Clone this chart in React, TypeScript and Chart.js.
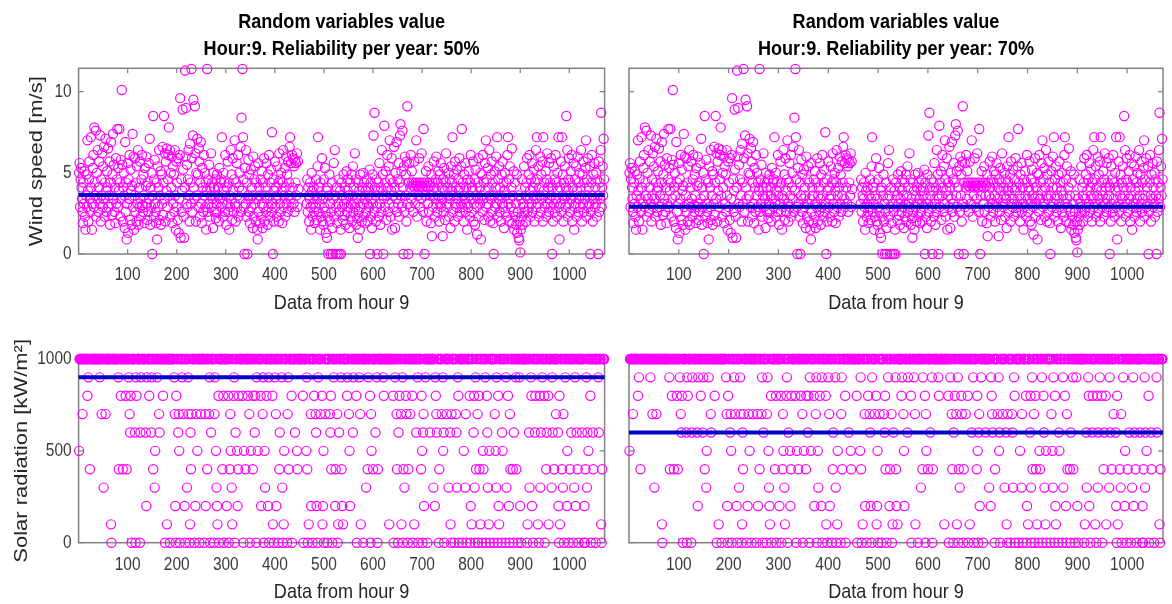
import React, { useEffect, useRef } from "react";
import { Chart, registerables } from "chart.js";

Chart.register(...registerables);

// ---------------- DATA ----------------
const hourOfDay = 9;
const reliabilityPercent = [50, 70];
const xAxisMax = 1072;
const xTickValues = [100, 200, 300, 400, 500, 600, 700, 800, 900, 1000];
const windTickValues = [0, 5, 10];
const solarTickValues = [0, 500, 1000];
const windAxisMax = 11.44;
const solarAxisMax = 1000;
// value reached with the given reliability (50%, 70%)
const windReliabilityLevel = [3.63, 2.91];
const solarReliabilityLevel = [900, 600];

// wind speed [m/s] for each day at hour 9 (null = missing record)
const windSpeed: (number | null)[] = [
  5.0, 5.6, 2.9, 4.6, 5.3, 4.1, 3.4, 2.6, 1.9, 4.4,
  3.1, 5.1, 2.3, 1.5, 3.6, 4.9, 2.9, 7.0, 3.9, 2.0,
  4.6, 5.7, 3.4, 2.6, 7.2, 4.1, 1.5, 3.1, 5.3, 6.1,
  2.9, 7.8, 4.4, 3.6, 7.6, 2.3, 5.0, 3.4, 6.4, 2.6,
  4.1, 5.7, 3.1, 7.3, 2.0, 4.6, 3.6, 6.2, 2.9, 5.4,
  3.4, 6.6, 2.3, 4.4, 7.1, 3.9, 2.6, 5.1, 4.1, 6.5,
  2.9, 3.6, 5.7, 1.8, 4.4, 6.9, 3.1, 2.4, 4.9, 7.4,
  3.4, 5.5, 2.6, 4.1, 1.9, 5.9, 3.1, 4.6, 7.7, 2.9,
  5.3, 3.9, 7.7, 4.4, 2.3, 5.8, 3.4, 10.1, 5.5, 2.0,
  4.1, 5.0, 3.6, 1.6, 6.9, 2.6, 4.4, 0.9, 3.1, 5.6,
  1.3, 4.6, 3.4, 6.1, 2.1, 5.2, 3.9, 1.8, 4.2, 7.4,
  2.9, 6.0, 1.5, 3.6, 5.9, 2.6, 4.4, 2.0, 5.4, 3.1,
  6.4, 1.8, 4.1, 2.9, 5.7, 3.4, 2.3, 4.6, 6.1, 3.0,
  2.6, 4.9, 3.6, 1.9, 5.3, 2.9, 4.2, 6.0, 3.1, 2.1,
  4.4, 2.6, 5.6, 3.4, 7.1, 1.8, 4.1, 2.9, 5.0, 0.0,
  3.6, 8.5, 2.3, 4.6, 5.8, 3.1, 2.6, 1.9, 4.4, 0.9,
  5.4, 2.9, 4.1, 6.4, 2.1, 3.6, 5.1, 1.8, 4.9, 3.1,
  6.6, 2.4, 4.4, 8.5, 3.4, 6.2, 2.0, 5.7, 3.9, 6.5,
  2.9, 4.6, 6.1, 7.8, 3.6, 6.4, 2.3, 5.0, 4.1, 6.0,
  1.9, 5.4, 3.1, 4.9, 2.6, 6.4, 3.6, 1.5, 5.7, 2.9,
  4.4, 2.1, 5.9, 1.3, 3.4, 6.1, 9.6, 1.0, 4.6, 2.6,
  3.9, 8.9, 5.2, 2.3, 1.0, 4.1, 11.3, 6.0, 9.0, 3.1,
  5.5, 2.9, 4.6, 6.4, 3.6, 2.0, 6.8, 4.4, 3.1, 11.4,
  5.9, 2.6, 7.3, 9.5, 4.1, 3.4, 9.1, 6.2, 2.0, 5.0,
  3.6, 7.1, 4.9, 2.9, 6.5, 5.7, 2.3, 4.4, 6.9, 3.1,
  1.9, 5.3, 4.1, 2.6, 6.1, 3.6, 5.0, 2.9, 4.4, 1.5,
  3.9, 11.4, 2.6, 4.6, 3.1, 5.5, 2.3, 4.1, 3.6, 6.2,
  2.9, 4.4, 3.4, 1.6, 5.0, 4.1, 2.6, 3.6, 4.6, 2.2,
  3.1, 4.9, 2.6, 4.1, 3.6, 2.0, 5.3, 3.4, 4.4, 2.9,
  4.6, 7.2, 3.1, 2.3, 5.0, 3.9, 4.4, 2.6, 6.1, 3.6,
  1.8, 4.1, 3.1, 5.7, 2.6, 4.4, 1.5, 3.6, 2.9, 6.4,
  3.4, 4.9, 2.1, 5.9, 3.9, 2.6, 4.6, 7.0, 3.1, 2.0,
  4.4, 5.6, 2.9, 3.6, 6.1, 2.3, 4.1, 5.0, 3.4, 6.6,
  2.6, 8.4, 3.9, 11.4, 7.2, 4.6, 2.9, 0.0, 5.3, 3.1,
  6.4, 2.3, 4.4, 0.0, 3.6, 5.8, 2.6, 4.9, 1.9, 3.4,
  5.2, 2.9, 4.1, 3.6, 1.6, 6.0, 2.3, 4.6, 3.1, 5.4,
  2.0, 4.4, 3.4, 1.5, 0.9, 5.6, 2.6, 4.1, 3.6, 1.9,
  4.6, 2.3, 5.1, 3.1, 1.6, 4.4, 2.9, 5.9, 2.0, 3.6,
  4.1, 2.6, 5.6, 3.4, 1.8, 4.9, 2.9, 6.1, 3.6, 2.3,
  4.4, 5.2, 2.6, 7.5, 3.1, 0.0, 4.6, 2.0, 3.9, 5.7,
  2.9, 4.1, 3.4, 2.3, 5.4, 3.6, 4.4, 2.0, 6.2, 3.1,
  4.6, 2.6, 5.0, 3.9, 1.9, 4.4, 6.4, 2.9, 3.6, 5.3,
  2.3, 4.1, 6.0, 3.1, 4.9, 2.6, 5.7, 3.6, 4.4, 6.6,
  7.2, 3.4, 5.6, 2.9, 6.1, 4.1, 5.9, 3.1, 5.4, 2.6,
  5.8, 4.4, 5.6, 3.6, 6.2, 2.9, 5.7, 4.0, null, null,
  null, null, null, null, null, null, null, null, null, null,
  null, null, null, null, 3.1, 4.6, 2.6, 4.1, 3.6, 2.0,
  3.4, 4.4, 2.9, 1.5, 5.0, 3.9, 2.3, 3.1, 4.1, 2.6,
  1.9, 3.6, 2.9, 4.6, 2.1, 3.4, 5.4, 7.2, 2.6, 4.1,
  3.1, 1.5, 4.4, 2.3, 3.6, 5.9, 2.0, 3.4, 1.8, 4.6,
  2.9, 5.3, 2.6, 1.3, 3.9, 1.0, 4.1, 2.3, 0.0, 3.6,
  4.9, 2.0, 3.1, 0.0, 2.6, 4.4, 1.6, 0.0, 3.4, 5.6,
  2.3, 6.4, 3.6, 0.0, 2.9, 4.1, 1.9, 0.0, 3.1, 4.6,
  2.6, 0.0, 3.9, 1.5, 0.0, 4.4, 2.9, 3.6, 2.1, 4.9,
  3.1, 2.4, 4.1, 1.8, 3.4, 5.1, 2.6, 3.9, 4.6, 2.9,
  3.6, 1.6, 4.4, 2.3, 3.1, 4.9, 2.0, 3.6, 5.4, 2.6,
  4.1, 3.1, 6.2, 2.9, 4.6, 1.8, 3.4, 2.2, 1.0, 4.4,
  2.6, 3.9, 1.5, 4.9, 2.9, 3.6, 2.0, 4.1, 3.1, 5.0,
  2.3, 4.4, 3.4, 1.9, 3.9, 2.6, 4.6, 3.1, 2.0, 4.1,
  3.6, 2.9, 5.2, 0.0, 4.4, 2.3, 3.4, 1.6, 4.9, 3.1,
  7.3, 2.6, 8.7, 4.1, 3.6, 2.0, 4.6, 2.9, 0.0, 3.9,
  4.4, 2.3, 5.6, 3.1, 1.8, 4.1, 2.6, 6.4, 3.6, 4.9,
  0.0, 3.4, 7.9, 2.9, 4.4, 5.1, 2.1, 3.6, 6.1, 4.1,
  2.6, 5.4, 3.1, 7.0, 4.6, 2.3, 3.9, 5.9, 1.5, 4.4,
  3.6, 2.9, 6.6, 4.1, 1.6, 5.0, 3.4, 6.9, 2.6, 4.6,
  3.1, 5.6, 2.3, 4.4, 7.3, 8.0, 3.6, 5.1, 2.9, 7.6,
  4.1, 0.0, 5.4, 2.6, 6.0, 3.6, 4.9, 2.0, 5.7, 9.1,
  3.1, 0.0, 4.4, 5.6, 2.9, 4.1, 6.1, 3.4, 5.1, 4.4,
  4.2, 2.6, 4.4, 5.7, 4.1, 3.1, 4.4, 7.0, 4.2, 2.3,
  4.4, 3.6, 4.1, 5.9, 4.4, 2.9, 4.2, 3.4, 6.2, 4.4,
  4.1, 2.6, 7.7, 4.4, 0.0, 3.6, 4.2, 5.1, 2.0, 4.4,
  3.1, 4.1, 5.4, 2.6, 4.4, 3.6, 4.2, 1.9, 4.9, 1.1,
  4.4, 2.9, 3.6, 5.7, 4.1, 2.3, 3.4, 4.6, 6.0, 3.1,
  2.6, 4.4, 5.1, 3.6, 2.0, 4.9, 3.1, 5.6, 2.9, 4.1,
  3.4, 1.1, 4.6, 2.6, 5.3, 3.9, 2.1, 4.4, 6.2, 3.1,
  2.9, 4.1, 3.6, 5.0, 2.3, 4.6, 3.4, 1.6, 5.4, 3.9,
  4.4, 7.2, 2.6, 3.6, 4.9, 2.0, 5.7, 3.1, 4.1, 2.9,
  5.2, 3.4, 2.3, 4.6, 3.9, 5.9, 2.6, 4.1, 3.1, 5.4,
  7.7, 2.9, 4.4, 3.6, 2.0, 4.9, 3.4, 5.6, 2.6, 4.1,
  3.1, 1.5, 4.6, 2.9, 5.1, 3.6, 2.3, 4.4, 6.1, 3.4,
  2.6, 4.1, 3.9, 5.7, 2.0, 3.1, 4.6, 1.8, 5.2, 3.6,
  2.9, 1.2, 4.4, 3.4, 5.9, 2.3, 4.1, 3.1, 5.0, 0.9,
  3.6, 4.9, 2.6, 6.1, 3.4, 4.4, 2.1, 5.6, 3.9, 7.0,
  2.9, 4.6, 3.1, 5.3, 2.3, 4.1, 6.4, 3.6, 2.0, 4.9,
  3.4, 5.7, 2.6, 4.4, 1.9, 0.0, 3.6, 5.1, 2.9, 4.1,
  6.0, 3.1, 7.2, 2.3, 4.6, 3.4, 5.4, 2.6, 4.1, 3.6,
  2.0, 4.9, 3.1, 5.7, 2.9, 4.4, 1.6, 3.9, 5.0, 2.6,
  3.6, 4.4, 2.3, 6.1, 7.2, 3.1, 4.6, 2.0, 5.4, 3.4,
  2.9, 4.1, 6.5, 1.9, 3.6, 2.6, 5.1, 1.5, 4.4, 2.3,
  3.1, 1.8, 4.9, 1.3, 2.6, 3.6, 1.0, 0.85, 2.0, 0.1,
  1.5, 3.4, 2.3, 4.6, 1.8, 3.1, 2.9, 5.4, 2.6, 4.1,
  3.6, 2.0, 4.4, 5.9, 2.6, 3.4, 4.9, 2.9, 6.1, 3.9,
  2.3, 4.6, 3.1, 5.6, 2.6, 4.1, 3.6, 5.2, 2.0, 4.4,
  3.4, 6.4, 2.9, 7.2, 4.6, 3.1, 5.4, 2.3, 4.1, 3.6,
  6.0, 2.6, 4.9, 3.4, 5.7, 2.0, 7.2, 3.9, 4.4, 2.9,
  3.6, 5.1, 2.3, 4.6, 6.2, 3.1, 4.1, 2.6, 5.6, 3.4,
  4.4, 2.9, 5.9, 3.6, 0.0, 4.1, 2.0, 5.4, 3.1, 4.6,
  2.6, 6.1, 3.4, 4.4, 2.3, 5.0, 3.9, 7.2, 2.9, 0.9,
  4.1, 3.1, 5.7, 2.6, 7.2, 3.6, 4.9, 2.0, 4.4, 3.4,
  5.4, 2.9, 4.1, 8.5, 3.6, 6.4, 2.3, 4.6, 5.9, 3.1,
  4.4, 2.6, 5.1, 3.4, 6.1, 2.0, 4.1, 3.6, 5.6, 1.5,
  2.9, 4.6, 3.1, 5.4, 2.3, 3.9, 6.0, 2.6, 4.4, 3.4,
  5.0, 2.9, 4.1, 6.4, 3.6, 2.0, 4.9, 3.1, 5.7, 2.6,
  4.4, 3.4, 5.3, 7.0, 2.3, 4.6, 3.6, 5.9, 2.9, 4.1,
  3.1, 5.4, 0.0, 2.6, 4.4, 6.1, 3.6, 2.0, 4.9, 3.4,
  5.6, 2.9, 4.1, 3.1, 5.0, 2.3, 4.6, 3.6, 0.0, 5.7,
  2.6, 4.4, 3.4, 6.4, 8.7, 2.9, 4.1, 5.4, 3.6, 7.1,
  4.6,
];

// solar radiation (0..1000) for each day at hour 9
const solarRadiation: number[] = [
  500, 1000, 1000, 1000, 1000, 1000, 1000, 700, 1000, 1000,
  1000, 1000, 1000, 1000, 1000, 1000, 1000, 800, 1000, 900,
  1000, 1000, 400, 1000, 1000, 1000, 1000, 1000, 1000, 1000,
  1000, 1000, 1000, 1000, 1000, 1000, 1000, 1000, 1000, 1000,
  1000, 1000, 900, 1000, 1000, 1000, 700, 1000, 1000, 1000,
  300, 1000, 1000, 1000, 700, 1000, 1000, 1000, 1000, 1000,
  1000, 1000, 1000, 1000, 1000, 100, 0, 1000, 1000, 1000,
  1000, 1000, 1000, 1000, 1000, 1000, 1000, 1000, 1000, 1000,
  900, 400, 1000, 1000, 1000, 800, 1000, 1000, 1000, 400,
  1000, 1000, 1000, 1000, 1000, 800, 1000, 400, 1000, 1000,
  1000, 900, 1000, 700, 600, 800, 1000, 0, 1000, 1000,
  1000, 1000, 1000, 1000, 600, 0, 900, 800, 1000, 1000,
  1000, 1000, 1000, 1000, 0, 600, 900, 1000, 1000, 1000,
  1000, 1000, 1000, 1000, 1000, 1000, 600, 200, 900, 1000,
  1000, 1000, 1000, 800, 1000, 1000, 1000, 600, 900, 1000,
  1000, 400, 1000, 1000, 300, 500, 1000, 1000, 1000, 900,
  1000, 1000, 1000, 700, 600, 1000, 1000, 1000, 1000, 1000,
  1000, 800, 1000, 1000, 1000, 0, 1000, 1000, 1000, 100,
  1000, 1000, 1000, 1000, 1000, 0, 1000, 1000, 1000, 1000,
  1000, 1000, 1000, 1000, 900, 700, 200, 0, 800, 1000,
  1000, 1000, 600, 700, 500, 0, 1000, 1000, 1000, 1000,
  900, 1000, 700, 1000, 1000, 200, 0, 1000, 1000, 1000,
  300, 1000, 900, 700, 1000, 0, 100, 600, 400, 700,
  1000, 1000, 1000, 1000, 1000, 0, 1000, 200, 1000, 700,
  1000, 500, 1000, 1000, 1000, 0, 1000, 1000, 700, 1000,
  1000, 1000, 1000, 1000, 1000, 0, 1000, 700, 200, 1000,
  1000, 400, 1000, 1000, 1000, 700, 900, 0, 1000, 600,
  1000, 1000, 1000, 1000, 1000, 0, 700, 900, 1000, 500,
  300, 200, 100, 1000, 800, 0, 1000, 1000, 1000, 1000,
  1000, 1000, 400, 1000, 800, 0, 1000, 1000, 1000, 1000,
  1000, 200, 1000, 1000, 800, 0, 1000, 400, 700, 500,
  1000, 300, 100, 1000, 1000, 800, 900, 0, 1000, 600,
  1000, 1000, 500, 200, 400, 800, 1000, 1000, 1000, 1000,
  1000, 1000, 1000, 800, 1000, 0, 500, 1000, 1000, 400,
  1000, 1000, 1000, 1000, 800, 1000, 1000, 700, 0, 1000,
  500, 1000, 1000, 1000, 400, 800, 1000, 1000, 600, 800,
  1000, 0, 900, 1000, 500, 1000, 1000, 1000, 1000, 1000,
  800, 200, 1000, 1000, 700, 900, 0, 1000, 500, 300,
  1000, 1000, 800, 1000, 1000, 200, 900, 0, 1000, 1000,
  1000, 1000, 1000, 1000, 800, 100, 1000, 0, 1000, 900,
  1000, 700, 200, 1000, 1000, 1000, 0, 1000, 400, 600,
  1000, 1000, 1000, 900, 300, 0, 1000, 100, 500, 1000,
  1000, 1000, 1000, 1000, 0, 700, 900, 400, 1000, 1000,
  1000, 1000, 1000, 800, 0, 1000, 1000, 1000, 1000, 1000,
  600, 1000, 1000, 1000, 500, 400, 1000, 1000, 1000, 1000,
  1000, 1000, 1000, 1000, 1000, 1000, 800, 0, 1000, 1000,
  1000, 1000, 1000, 500, 900, 400, 0, 1000, 100, 1000,
  1000, 1000, 700, 200, 1000, 1000, 0, 1000, 1000, 800,
  1000, 1000, 700, 600, 200, 1000, 0, 900, 1000, 1000,
  1000, 1000, 700, 1000, 1000, 800, 100, 200, 500, 0,
  1000, 1000, 700, 1000, 1000, 1000, 0, 1000, 1000, 1000,
  1000, 700, 600, 800, 400, 1000, 0, 1000, 1000, 900,
  1000, 1000, 200, 400, 1000, 1000, 700, 0, 100, 1000,
  600, 1000, 1000, 1000, 900, 400, 200, 1000, 100, 1000,
  1000, 1000, 1000, 1000, 1000, 1000, 800, 900, 1000, 1000,
  700, 500, 200, 1000, 1000, 1000, 1000, 1000, 600, 900,
  1000, 1000, 1000, 1000, 1000, 800, 0, 1000, 1000, 1000,
  1000, 900, 1000, 700, 100, 1000, 1000, 1000, 1000, 0,
  1000, 1000, 1000, 1000, 1000, 300, 1000, 1000, 400, 900,
  1000, 1000, 1000, 800, 0, 700, 500, 1000, 1000, 400,
  1000, 1000, 1000, 1000, 600, 1000, 1000, 900, 0, 400,
  1000, 1000, 1000, 1000, 1000, 1000, 1000, 1000, 1000, 1000,
  900, 800, 1000, 1000, 1000, 1000, 1000, 1000, 1000, 1000,
  1000, 1000, 100, 1000, 1000, 1000, 1000, 1000, 1000, 1000,
  800, 0, 1000, 1000, 900, 1000, 1000, 700, 400, 1000,
  0, 600, 1000, 800, 1000, 1000, 700, 100, 1000, 900,
  0, 400, 1000, 300, 1000, 1000, 800, 700, 1000, 1000,
  0, 400, 1000, 1000, 1000, 700, 1000, 1000, 1000, 800,
  0, 1000, 1000, 100, 1000, 1000, 1000, 600, 1000, 1000,
  900, 0, 1000, 1000, 1000, 1000, 1000, 400, 800, 500,
  0, 600, 700, 200, 1000, 1000, 900, 1000, 1000, 1000,
  0, 1000, 1000, 1000, 1000, 600, 1000, 1000, 1000, 1000,
  1000, 1000, 300, 1000, 1000, 200, 900, 800, 700, 600,
  1000, 1000, 1000, 0, 400, 1000, 1000, 1000, 1000, 700,
  1000, 900, 500, 600, 0, 1000, 1000, 1000, 1000, 700,
  1000, 1000, 1000, 300, 1000, 1000, 600, 100, 0, 700,
  1000, 1000, 1000, 1000, 1000, 0, 1000, 1000, 700, 600,
  300, 1000, 900, 800, 0, 1000, 1000, 1000, 1000, 1000,
  1000, 0, 1000, 1000, 500, 1000, 1000, 300, 700, 0,
  1000, 1000, 1000, 1000, 1000, 1000, 800, 0, 200, 1000,
  100, 1000, 1000, 1000, 600, 800, 300, 0, 900, 400,
  1000, 1000, 700, 0, 1000, 800, 400, 1000, 100, 1000,
  1000, 0, 1000, 500, 400, 1000, 1000, 1000, 900, 0,
  1000, 800, 600, 300, 1000, 100, 500, 0, 1000, 1000,
  1000, 1000, 1000, 1000, 1000, 0, 1000, 700, 1000, 500,
  300, 900, 1000, 0, 800, 200, 100, 1000, 1000, 1000,
  1000, 0, 600, 500, 1000, 1000, 1000, 1000, 1000, 0,
  900, 300, 1000, 1000, 800, 1000, 200, 0, 700, 400,
  1000, 1000, 1000, 1000, 400, 0, 600, 1000, 1000, 1000,
  900, 400, 1000, 1000, 0, 1000, 1000, 900, 1000, 200,
  1000, 0, 1000, 1000, 1000, 1000, 1000, 1000, 1000, 1000,
  1000, 1000, 1000, 0, 100, 1000, 1000, 600, 300, 1000,
  1000, 900, 800, 200, 1000, 0, 1000, 1000, 1000, 600,
  800, 1000, 1000, 1000, 1000, 100, 1000, 0, 1000, 800,
  300, 600, 1000, 1000, 900, 1000, 1000, 1000, 800, 0,
  1000, 1000, 400, 600, 1000, 1000, 800, 100, 1000, 1000,
  1000, 1000, 1000, 300, 900, 600, 1000, 1000, 400, 1000,
  1000, 1000, 700, 1000, 1000, 1000, 600, 200, 0, 800,
  100, 1000, 1000, 1000, 400, 1000, 300, 700, 0, 1000,
  1000, 900, 1000, 1000, 200, 500, 1000, 1000, 0, 1000,
  400, 1000, 1000, 600, 1000, 1000, 1000, 0, 1000, 300,
  1000, 900, 200, 1000, 600, 1000, 400, 1000, 0, 1000,
  1000, 1000, 1000, 1000, 1000, 600, 1000, 1000, 1000, 0,
  200, 0, 400, 1000, 900, 300, 600, 1000, 500, 1000,
  1000, 1000, 800, 0, 1000, 1000, 1000, 600, 400, 1000,
  1000, 1000, 1000, 0, 1000, 1000, 1000, 1000, 900, 600,
  1000, 1000, 1000, 1000, 100, 0, 400, 1000, 1000, 1000,
  1000,
];

// ---------------- STYLE ----------------
const FONT = "'Liberation Sans', Arial, Helvetica, sans-serif";
const SQUEEZE = 0.86; // the reference figure is horizontally compressed
const MARKER_COLOR = "#ff00ff";
const LINE_COLOR = "#0000c8";
const FRAME_COLOR = "#808080";
const TICK_TEXT = "#3a3a3a";
const LABEL_TEXT = "#262626";

type Area = { left: number; top: number; right: number; bottom: number };

type PanelSpec = {
  key: string;
  left: number;
  top: number;
  width: number;
  height: number;
  area: Area;
  title: string[] | null;
  yTitle: string | null;
  yTitlePad: number;
  yTicks: number[];
  yMax: number;
  values: (number | null)[];
  level: number;
  xTickPad: number;
  xTitlePad: number;
};

// draws text narrower, like the squeezed original figure
const squeezeTextPlugin = {
  id: "squeezeText",
  beforeInit(chart: any) {
    const ctx = chart.ctx as CanvasRenderingContext2D;
    if ((ctx as any).__squeezed) return;
    (ctx as any).__squeezed = true;
    const orig = ctx.fillText.bind(ctx);
    (ctx as any).fillText = (text: string, x: number, y: number, maxWidth?: number) => {
      const m = ctx.getTransform();
      const rotated = Math.abs(m.b) > 1e-6;
      ctx.save();
      ctx.translate(x, y);
      if (rotated) ctx.scale(1, SQUEEZE);
      else ctx.scale(SQUEEZE, 1);
      if (maxWidth === undefined || maxWidth === null) orig(text, 0, 0);
      else orig(text, 0, 0, rotated ? maxWidth : maxWidth / SQUEEZE);
      ctx.restore();
    };
  },
};

const framePlugin = {
  id: "matlabFrame",
  beforeDatasetsDraw(chart: any) {
    const { ctx, chartArea, scales } = chart;
    const { left, right, top, bottom } = chartArea;
    const xs = scales.x;
    const ys = scales.y;
    ctx.save();
    ctx.strokeStyle = FRAME_COLOR;
    ctx.lineWidth = 1.5;
    ctx.strokeRect(left, top, right - left, bottom - top);
    ctx.lineWidth = 1.2;
    ctx.beginPath();
    xs.ticks.forEach((t: any) => {
      const px = xs.getPixelForValue(t.value);
      ctx.moveTo(px, bottom);
      ctx.lineTo(px, bottom - 5);
      ctx.moveTo(px, top);
      ctx.lineTo(px, top + 5);
    });
    ys.ticks.forEach((t: any) => {
      const py = ys.getPixelForValue(t.value);
      ctx.moveTo(left, py);
      ctx.lineTo(left + 5, py);
      ctx.moveTo(right, py);
      ctx.lineTo(right - 5, py);
    });
    ctx.stroke();
    ctx.restore();
  },
};

function Panel({ spec }: { spec: PanelSpec }) {
  const ref = useRef<HTMLCanvasElement | null>(null);
  useEffect(() => {
    if (!ref.current) return;
    const s = spec;
    const points = s.values
      .map((v, i) => (v === null ? null : { x: i + 1, y: v }))
      .filter((p) => p !== null) as { x: number; y: number }[];
    const titleLineH = 26.6;
    const titlePadTop = 9.4;
    const chart = new Chart(ref.current, {
      type: "scatter",
      data: {
        datasets: [
          {
            data: [
              { x: 0, y: s.level },
              { x: xAxisMax, y: s.level },
            ],
            showLine: true,
            borderColor: LINE_COLOR,
            backgroundColor: LINE_COLOR,
            borderWidth: 4,
            pointRadius: 0,
            order: 0,
            clip: false as any,
          },
          {
            data: points,
            pointStyle: "circle",
            pointRadius: 4.6,
            pointBorderWidth: 1.2,
            borderColor: MARKER_COLOR,
            pointBorderColor: MARKER_COLOR,
            backgroundColor: "rgba(0,0,0,0)",
            pointBackgroundColor: "rgba(0,0,0,0)",
            order: 1,
            clip: false as any,
          },
        ],
      },
      options: {
        animation: false,
        responsive: false,
        maintainAspectRatio: false,
        devicePixelRatio: 1,
        events: [],
        layout: {
          padding: {
            left: 0,
            top: s.title ? 0 : s.area.top,
            right: s.width - s.area.right,
            bottom: 0,
          },
        },
        plugins: {
          legend: { display: false },
          tooltip: { enabled: false },
          title: {
            display: !!s.title,
            text: s.title ?? "",
            fullSize: false,
            color: "#000",
            font: { family: FONT, size: 21, weight: "bold", lineHeight: titleLineH / 21 },
            padding: {
              top: titlePadTop,
              bottom: s.area.top - titlePadTop - 2 * titleLineH,
            },
          },
        },
        scales: {
          x: {
            type: "linear",
            min: 0,
            max: xAxisMax,
            afterBuildTicks: (sc: any) => {
              sc.ticks = xTickValues.map((v) => ({ value: v }));
            },
            afterFit: (sc: any) => {
              sc.height = s.height - s.area.bottom;
            },
            grid: { display: false, drawTicks: false },
            border: { display: false },
            ticks: {
              padding: s.xTickPad,
              color: TICK_TEXT,
              font: { family: FONT, size: 18 },
              maxRotation: 0,
              autoSkip: false,
              callback: (v: any) => String(v),
            },
            title: {
              display: true,
              text: `Data from hour ${hourOfDay}`,
              color: LABEL_TEXT,
              font: { family: FONT, size: 21, lineHeight: 1.2 },
              padding: { top: 0, bottom: s.xTitlePad },
            },
          },
          y: {
            type: "linear",
            min: 0,
            max: s.yMax,
            afterBuildTicks: (sc: any) => {
              sc.ticks = s.yTicks.map((v) => ({ value: v }));
            },
            afterFit: (sc: any) => {
              sc.width = s.area.left;
            },
            grid: { display: false, drawTicks: false },
            border: { display: false },
            ticks: {
              display: !!s.yTitle,
              padding: 7,
              color: TICK_TEXT,
              font: { family: FONT, size: 18 },
              autoSkip: false,
              callback: (v: any) => String(v),
            },
            title: {
              display: !!s.yTitle,
              text: s.yTitle ?? "",
              color: LABEL_TEXT,
              font: { family: FONT, size: 22, lineHeight: 1.2 },
              padding: { top: s.yTitlePad, bottom: 0 },
            },
          },
        },
      },
      plugins: [squeezeTextPlugin, framePlugin],
    } as any);
    return () => chart.destroy();
  }, [spec]);
  return (
    <canvas
      ref={ref}
      width={spec.width}
      height={spec.height}
      style={{
        position: "absolute",
        left: spec.left,
        top: spec.top,
        width: spec.width,
        height: spec.height,
      }}
    />
  );
}

const titleFor = (r: number) => [
  "Random variables value",
  `Hour:${hourOfDay}. Reliability per year: ${r}%`,
];

const panels: PanelSpec[] = [
  {
    key: "wind50",
    left: 0,
    top: 0,
    width: 612,
    height: 320,
    area: { left: 78.6, top: 68.3, right: 604.6, bottom: 254 },
    title: titleFor(reliabilityPercent[0]),
    yTitle: "Wind speed [m/s]",
    yTitlePad: 23.2,
    yTicks: windTickValues,
    yMax: windAxisMax,
    values: windSpeed,
    level: windReliabilityLevel[0],
    xTickPad: 10,
    xTitlePad: 4,
  },
  {
    key: "wind70",
    left: 612,
    top: 0,
    width: 560,
    height: 320,
    area: { left: 17, top: 68.3, right: 551, bottom: 254 },
    title: titleFor(reliabilityPercent[1]),
    yTitle: null,
    yTitlePad: 0,
    yTicks: windTickValues,
    yMax: windAxisMax,
    values: windSpeed,
    level: windReliabilityLevel[1],
    xTickPad: 10,
    xTitlePad: 4,
  },
  {
    key: "solar50",
    left: 0,
    top: 320,
    width: 612,
    height: 300,
    area: { left: 78.6, top: 39, right: 604.6, bottom: 222.7 },
    title: null,
    yTitle: "Solar radiation [kW/m²]",
    yTitlePad: 8.5,
    yTicks: solarTickValues,
    yMax: solarAxisMax,
    values: solarRadiation,
    level: solarReliabilityLevel[0],
    xTickPad: 11.5,
    xTitlePad: 15.3,
  },
  {
    key: "solar70",
    left: 612,
    top: 320,
    width: 560,
    height: 300,
    area: { left: 17, top: 39, right: 551, bottom: 222.7 },
    title: null,
    yTitle: null,
    yTitlePad: 0,
    yTicks: solarTickValues,
    yMax: solarAxisMax,
    values: solarRadiation,
    level: solarReliabilityLevel[1],
    xTickPad: 11.5,
    xTitlePad: 15.3,
  },
];

export default function App() {
  return (
    <div
      style={{
        position: "fixed",
        left: 0,
        top: 0,
        width: 1172,
        height: 604,
        overflow: "hidden",
        background: "#ffffff",
      }}
    >
      {panels.map((p) => (
        <Panel key={p.key} spec={p} />
      ))}
    </div>
  );
}
